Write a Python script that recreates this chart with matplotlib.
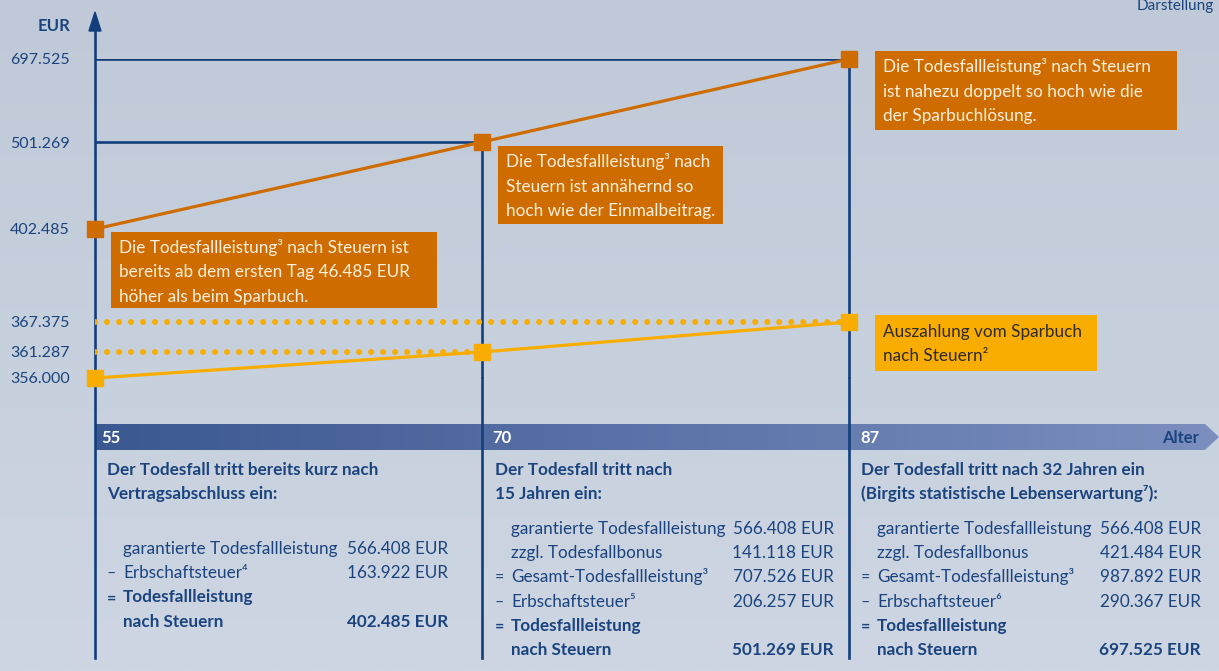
import numpy as np
import matplotlib.pyplot as plt
from matplotlib.patches import Rectangle, Polygon
from matplotlib.colors import LinearSegmentedColormap

plt.rcParams['font.family'] = ['Lato', 'DejaVu Sans']

# data
ages = [55, 70, 87]
age_labels = ['55', '70', '87']
death_after_tax = [402.485, 501.269, 697.525]     # Todesfallleistung nach Steuern (TEUR)
savings_after_tax = [356.000, 361.287, 367.375]   # Sparbuch nach Steuern (TEUR)

box_texts = [
    ['Die Todesfallleistung³ nach Steuern ist', 'bereits ab dem ersten Tag 46.485 EUR', 'höher als beim Sparbuch.'],
    ['Die Todesfallleistung³ nach', 'Steuern ist annähernd so', 'hoch wie der Einmalbeitrag.'],
    ['Die Todesfallleistung³ nach Steuern', 'ist nahezu doppelt so hoch wie die', 'der Sparbuchlösung.'],
]
savings_text = ['Auszahlung vom Sparbuch', 'nach Steuern²']

headings = [
    ['Der Todesfall tritt bereits kurz nach', 'Vertragsabschluss ein:'],
    ['Der Todesfall tritt nach', '15 Jahren ein:'],
    ['Der Todesfall tritt nach 32 Jahren ein', '(Birgits statistische Lebenserwartung⁷):'],
]
# (sign, label, value, bold)
tables = [
    [('', 'garantierte Todesfallleistung', '566.408 EUR', False),
     ('–', 'Erbschaftsteuer⁴', '163.922 EUR', False),
     ('=', 'Todesfallleistung', '', True),
     ('', 'nach Steuern', '402.485 EUR', True)],
    [('', 'garantierte Todesfallleistung', '566.408 EUR', False),
     ('', 'zzgl. Todesfallbonus', '141.118 EUR', False),
     ('=', 'Gesamt-Todesfallleistung³', '707.526 EUR', False),
     ('–', 'Erbschaftsteuer⁵', '206.257 EUR', False),
     ('=', 'Todesfallleistung', '', True),
     ('', 'nach Steuern', '501.269 EUR', True)],
    [('', 'garantierte Todesfallleistung', '566.408 EUR', False),
     ('', 'zzgl. Todesfallbonus', '421.484 EUR', False),
     ('=', 'Gesamt-Todesfallleistung³', '987.892 EUR', False),
     ('–', 'Erbschaftsteuer⁶', '290.367 EUR', False),
     ('=', 'Todesfallleistung', '', True),
     ('', 'nach Steuern', '697.525 EUR', True)],
]

navy = '#123f7c'
navy_txt = '#1b447f'
orange = '#cf6c00'
yellow = '#f8ad00'

W, H = 1219, 671
fig = plt.figure(figsize=(W / 100, H / 100), dpi=100)

# background layer in pixel coordinates
lay = fig.add_axes([0, 0, 1, 1], zorder=0)
lay.axis('off')
bg = LinearSegmentedColormap.from_list('bg', ['#c0c9d7', '#cdd6e2'])
lay.imshow(np.linspace(0, 1, 256).reshape(-1, 1), cmap=bg, extent=[0, W, H, 0], aspect='auto')

# age band with arrow tip
band = Polygon([(95, 424), (1205, 424), (1219, 437), (1205, 450), (95, 450)],
               closed=True, facecolor='none', edgecolor='none', transform=lay.transData)
lay.add_patch(band)
bcm = LinearSegmentedColormap.from_list('band', ['#3b5891', '#7c8fbf'])
im = lay.imshow(np.linspace(0, 1, 256).reshape(1, -1), cmap=bcm, extent=[95, 1219, 450, 424], aspect='auto')
im.set_clip_path(band)
lay.set_xlim(0, W)
lay.set_ylim(H, 0)

for x, lab in zip([101, 492, 860], age_labels):
    lay.text(x, 443, lab, color='white', fontsize=12, fontweight='bold', va='baseline')
lay.text(1199, 443, 'Alter', color=navy_txt, fontsize=12, fontweight='bold', va='baseline', ha='right')

# axis arrow head and labels
lay.add_patch(Polygon([(89, 31), (101, 31), (95, 12)], closed=True, color=navy))
lay.text(70, 31, 'EUR', color=navy_txt, fontsize=12, fontweight='bold', ha='right', va='baseline')
lay.text(1214, 10, 'Darstellung', color=navy_txt, fontsize=11, ha='right', va='baseline')

# orange comment boxes
boxes = [(111, 232, 326, 76), (498, 146, 225, 78), (875, 51, 302, 79)]
for (bx, by, bw, bh), lines in zip(boxes, box_texts):
    lay.add_patch(Rectangle((bx, by), bw, bh, facecolor=orange, edgecolor='none'))
    for i, line in enumerate(lines):
        lay.text(bx + 8, by + 21 + i * 24.5, line, color='#fdf0df', fontsize=12.3, va='baseline')
lay.add_patch(Rectangle((875, 315), 222, 56, facecolor=yellow, edgecolor='none'))
for i, line in enumerate(savings_text):
    lay.text(883, 337 + i * 24, line, color='#2e2a30', fontsize=12.3, va='baseline')

# tables below the band
cols = [(107, 448, 548), (495, 834, 528), (861, 1201, 528)]
for (x0, xr, y0), head, rows in zip(cols, headings, tables):
    for i, line in enumerate(head):
        lay.text(x0, 475 + i * 24, line, color=navy_txt, fontsize=12.3, fontweight='bold', va='baseline')
    for i, (sign, label, val, bold) in enumerate(rows):
        w = 'bold' if bold else 'normal'
        y = y0 + 6 + i * 24.2
        if sign:
            lay.text(x0, y, sign, color=navy_txt, fontsize=11.5, fontweight=w, va='baseline')
        lay.text(x0 + 16, y, label, color=navy_txt, fontsize=12.3, fontweight=w, va='baseline')
        if val:
            lay.text(xr, y, val, color=navy_txt, fontsize=12.3, fontweight=w, va='baseline', ha='right')


# data axes with schematic (piecewise linear) scales
def piecewise(src, dst):
    src = np.asarray(src, float)
    dst = np.asarray(dst, float)
    k0 = (dst[1] - dst[0]) / (src[1] - src[0])
    k1 = (dst[-1] - dst[-2]) / (src[-1] - src[-2])

    def f(v):
        v = np.asarray(v, float)
        out = np.interp(v, src, dst)
        out = np.where(v < src[0], dst[0] + (v - src[0]) * k0, out)
        out = np.where(v > src[-1], dst[-1] + (v - src[-1]) * k1, out)
        return out
    return f


yv = sorted(savings_after_tax + death_after_tax)
ypos = [0, 26, 56, 149, 236, 319]
xpos = [0, 387, 754]

ax = fig.add_axes([95 / W, 1 - 378 / H, 754 / W, 319 / H], zorder=2)
ax.patch.set_alpha(0)
ax.set_xscale('function', functions=(piecewise(ages, xpos), piecewise(xpos, ages)))
ax.set_yscale('function', functions=(piecewise(yv, ypos), piecewise(ypos, yv)))
ax.set_xlim(ages[0], ages[-1])
ax.set_ylim(yv[0], yv[-1])
for s in ax.spines.values():
    s.set_visible(False)
ax.set_xticks([])
ax.set_yticks(yv)
ax.set_yticklabels([f'{v:.3f}' for v in yv])
ax.tick_params(axis='y', length=0, pad=18, labelsize=11.5, labelcolor=navy_txt)
ax.minorticks_off()

bot = (378 - 658) / 319
# y axis line
ax.axvline(ages[0], ymin=bot, ymax=(378 - 30) / 319, color=navy, lw=1.9, clip_on=False)
for a, top in zip(ages[1:], death_after_tax[1:]):
    ax.vlines(a, yv[0], top, color=navy, lw=1.9, clip_on=False)
    ax.axvline(a, ymin=bot, ymax=0, color=navy, lw=1.9, clip_on=False)
ax.hlines(death_after_tax[1:], ages[0], ages[1:], color=navy, lw=1.9)

dots = ax.hlines(savings_after_tax[1:], ages[0], ages[1:], color=yellow, lw=4.3,
                 linestyles=[(0, (0.01, 2.0))])
dots.set_capstyle('round')

ax.plot(ages, savings_after_tax, color=yellow, lw=2.3, marker='s', ms=11.5, clip_on=False, zorder=3)
ax.plot(ages, death_after_tax, color=orange, lw=2.3, marker='s', ms=11.5, clip_on=False, zorder=4)

fig.savefig('out.png', dpi=100)
